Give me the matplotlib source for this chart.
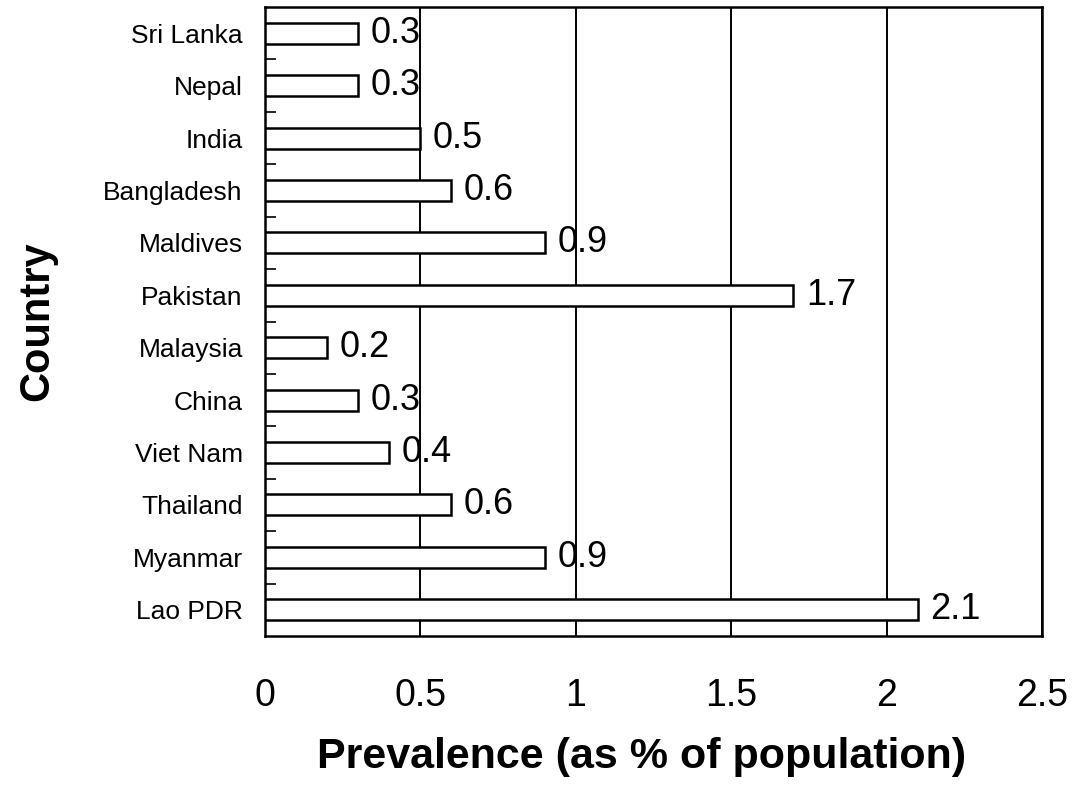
import matplotlib.pyplot as plt
from matplotlib.ticker import FixedLocator

plt.rcParams['font.family'] = ['Liberation Sans', 'DejaVu Sans']

countries = ["Lao PDR", "Myanmar", "Thailand", "Viet Nam", "China", "Malaysia",
             "Pakistan", "Maldives", "Bangladesh", "India", "Nepal", "Sri Lanka"]
prevalence = [2.1, 0.9, 0.6, 0.4, 0.3, 0.2, 1.7, 0.9, 0.6, 0.5, 0.3, 0.3]
x_ticks = [0, 0.5, 1, 1.5, 2, 2.5]
x_labels = ["0", "0.5", "1", "1.5", "2", "2.5"]

fig = plt.figure(figsize=(10.75, 7.91), dpi=100)
ax = fig.add_axes([265 / 1075, 1 - 636 / 791, 777 / 1075, 629 / 791])

pos = list(range(len(countries)))
ax.barh(pos, prevalence, height=0.4, color="white", edgecolor="black",
        linewidth=1.8, zorder=3)
for y, v in zip(pos, prevalence):
    ax.text(v + 0.04, y, f"{v:g}", va="center", ha="left", fontsize=26, zorder=4)

ax.set_xlim(0, 2.5)
ax.set_ylim(-0.5, len(countries) - 0.5)
ax.xaxis.set_major_locator(FixedLocator(x_ticks))
ax.set_xticklabels(x_labels, fontsize=27)
ax.set_yticks(pos)
ax.set_yticklabels(countries, fontsize=19)
ax.yaxis.set_minor_locator(FixedLocator([p + 0.5 for p in pos[:-1]]))
ax.tick_params(axis="x", length=0, pad=30)
ax.tick_params(axis="y", which="major", length=0, pad=16)
ax.tick_params(axis="y", which="minor", direction="in", length=8, width=1.2)

ax.grid(axis="x", color="black", linewidth=1.4, zorder=1)
ax.set_axisbelow(True)
for s in ax.spines.values():
    s.set_linewidth(1.8)

ax.set_xlabel("Prevalence (as % of population)", fontsize=31, fontweight="bold")
ax.xaxis.set_label_coords(0.484, -0.16)
ax.set_ylabel("Country", fontsize=30, fontweight="bold")
ax.yaxis.set_label_coords(-0.268, 0.5)

fig.savefig("out.png", dpi=100)
